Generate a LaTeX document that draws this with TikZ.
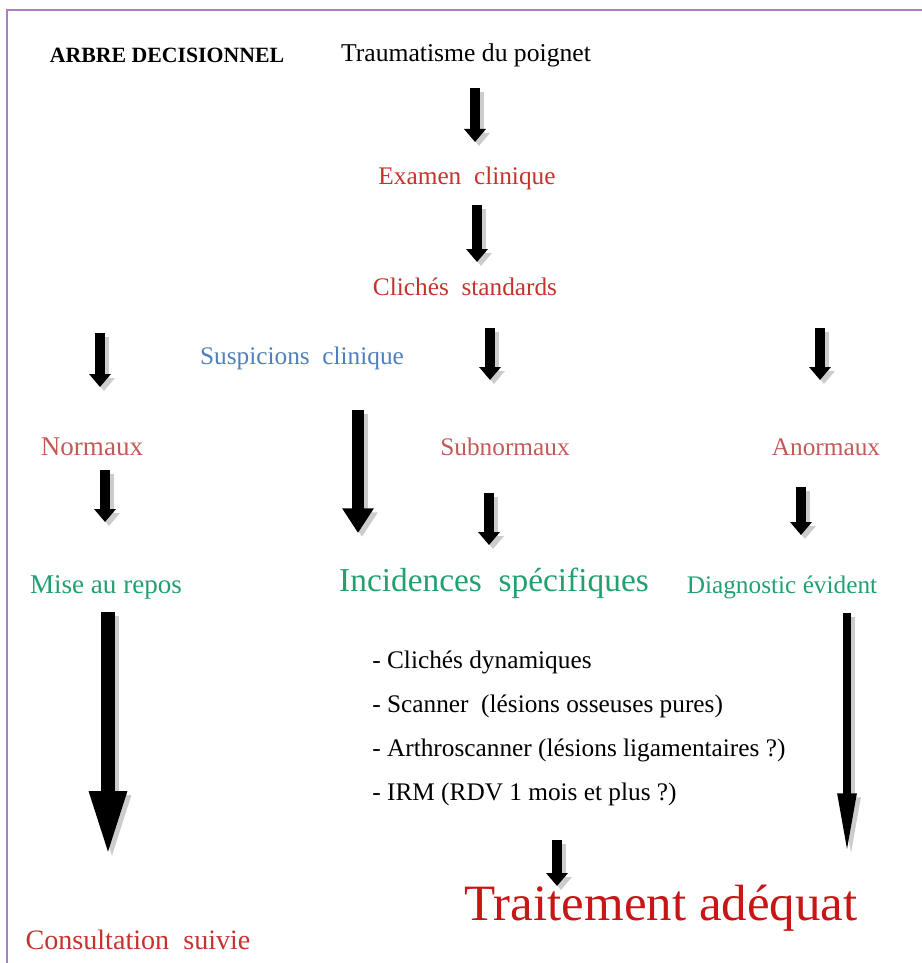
\documentclass[tikz,border=0pt]{standalone}
\usepackage{fontspec}
\setmainfont{Liberation Serif}
\usetikzlibrary{arrows.meta}

\definecolor{rouge}{RGB}{198,50,46}
\definecolor{rose}{RGB}{196,90,88}
\definecolor{bleu}{RGB}{78,128,190}
\definecolor{vert}{RGB}{34,160,112}
\definecolor{rougevif}{RGB}{200,22,22}
\definecolor{cadre}{RGB}{175,125,195}

\def\px{0.02}
\def\fs#1{\fontsize{#1}{#1}\selectfont}

% arrow with a grey shadow: start, end, line width, head width, head length
\newcommand\fleche[5]{%
 \draw[ombre,line width=#3,-{Triangle[width=#4,length=#5]}]
  ([shift={(4,4)}]#1) -- ([shift={(4,4)}]#2);
 \draw[line width=#3,-{Triangle[width=#4,length=#5]}] (#1) -- (#2);}

\begin{document}
\begin{tikzpicture}[x=\px cm,y=-\px cm,
 txt/.style={inner sep=0pt,font=\fs{14.4}},
 rougetxt/.style={txt,text=rouge},
 rosetxt/.style={txt,text=rose},
 verttxt/.style={txt,text=vert},
 ombre/.style={gray!40}]
 \useasboundingbox (0,0) rectangle (922,963);
 % frame
 \draw[cadre,line width=1.2pt] (7,963) -- (7,10) -- (922,10);

 % Header
 \node[txt,font=\bfseries\fs{12.4}] (arbre) at (167,55) {ARBRE DECISIONNEL};
 \node[txt,font=\fs{14.6}] (trauma) at (466,55) {Traumatisme du poignet};
 \node[rougetxt] (examen) at (467,178) {Examen\ \ clinique};
 \node[rougetxt] (cliches) at (465,287) {Clichés\ \ standards};
 \node[txt,text=bleu] (suspicion) at (302,358) {Suspicions\ \ clinique};

 % Results
 \node[rosetxt,font=\fs{15.4}] (normaux) at (92,447) {Normaux};
 \node[rosetxt] (subnormaux) at (505,447) {Subnormaux};
 \node[rosetxt] (anormaux) at (826,447) {Anormaux};
 \node[verttxt,font=\fs{15.4}] (repos) at (106,587) {Mise au repos};
 \node[verttxt,font=\fs{19}] (incidences) at (494,583) {Incidences\ \ spécifiques};
 \node[verttxt] (diagnostic) at (782,587) {Diagnostic évident};

 % "Examens"
 \foreach \t [count=\i] in {- Clichés dynamiques,
   - Scanner\ \ (lésions osseuses pures),
   - Arthroscanner (lésions ligamentaires ?),
   - IRM (RDV 1 mois et plus ?)}
  \node[txt,anchor=west] (item\i) at (372,618+44*\i) {\t};

 % Outcome
 \node[txt,font=\fs{29},text=rougevif] (traitement) at (661,908) {Traitement adéquat};
 \node[txt,font=\fs{16},text=rouge] (consultation) at (138,940) {Consultation\ \ suivie};

 % Arrows
 \coordinate (a1) at (475,88);   \coordinate (b1) at (475,142);
 \coordinate (a2) at (477,205);  \coordinate (b2) at (477,262);
 \coordinate (a3) at (100,333);  \coordinate (b3) at (100,387);
 \coordinate (a4) at (490,328);  \coordinate (b4) at (490,380);
 \coordinate (a5) at (820,328);  \coordinate (b5) at (820,380);
 \coordinate (a6) at (105,470);  \coordinate (b6) at (105,522);
 \coordinate (a7) at (489,493);  \coordinate (b7) at (489,545);
 \coordinate (a8) at (801,487);  \coordinate (b8) at (801,535);
 \coordinate (a9) at (557,840);  \coordinate (b9) at (557,886);
 \foreach \i in {1,...,9}
  \fleche{a\i}{b\i}{6.2pt}{12pt}{7.4pt}
 % long ones
 \coordinate (s1) at (358,410);  \coordinate (s2) at (358,533);
 \fleche{s1}{s2}{7pt}{17pt}{14pt}
 \coordinate (g1) at (108,612);  \coordinate (g2) at (108,858);
 \fleche{g1}{g2}{8.5pt}{19pt}{38pt}
 \coordinate (d1) at (847,613);  \coordinate (d2) at (847,853);
 \fleche{d1}{d2}{4pt}{10pt}{34pt}
\end{tikzpicture}
\end{document}
